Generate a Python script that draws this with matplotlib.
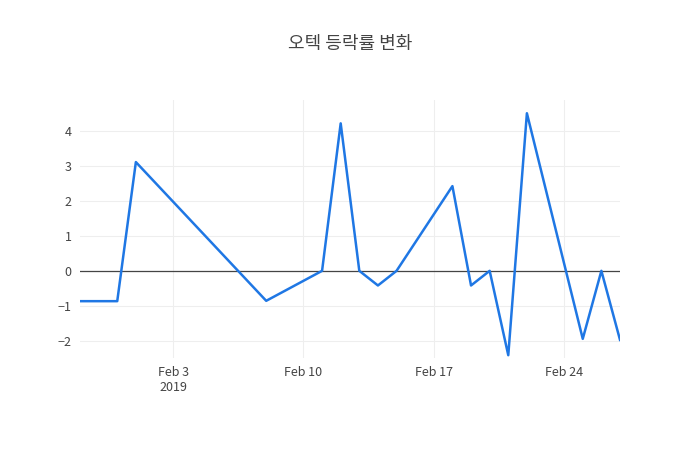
import matplotlib.pyplot as plt
import matplotlib.dates as mdates
import pandas as pd

plt.rcParams['font.family'] = ['Noto Sans CJK KR', 'DejaVu Sans']

dates = ["2019-01-29", "2019-01-31", "2019-02-01", "2019-02-08", "2019-02-11",
         "2019-02-12", "2019-02-13", "2019-02-14", "2019-02-15", "2019-02-18",
         "2019-02-19", "2019-02-20", "2019-02-21", "2019-02-22", "2019-02-25",
         "2019-02-26", "2019-02-27"]
change = [-0.87, -0.87, 3.12, -0.86, 0.0, 4.23, 0.0, -0.42, 0.0, 2.43,
          -0.42, 0.0, -2.42, 4.52, -1.95, 0.0, -1.98]
x = pd.to_datetime(dates)

fig = plt.figure(figsize=(7, 4.5), dpi=100)
ax = fig.add_axes([80/700, 1-358/450, 540/700, 258/450])
ax.plot(x, change, color='#1f77e4', lw=1.8, zorder=3)
ax.axhline(0, color='#444444', lw=0.9, zorder=2)
ax.set_xlim(x[0], x[-1])
ax.set_ylim(-2.5, 4.9)
ax.set_yticks([-2, -1, 0, 1, 2, 3, 4])
ax.set_yticklabels(['−2', '−1', '0', '1', '2', '3', '4'])
ticks = pd.to_datetime(["2019-02-03", "2019-02-10", "2019-02-17", "2019-02-24"])
ax.set_xticks(ticks)
ax.set_xticklabels(["Feb 3\n2019", "Feb 10", "Feb 17", "Feb 24"])
ax.grid(color='#eeeeee', lw=0.8, zorder=0)
for s in ax.spines.values():
    s.set_visible(False)
ax.tick_params(length=0, labelsize=9, colors='#444444', pad=6)
fig.text(0.5, 1-44/450, "오텍 등락률 변화", ha='center', va='center', fontsize=13, color='#444444')
fig.savefig("out.png")
